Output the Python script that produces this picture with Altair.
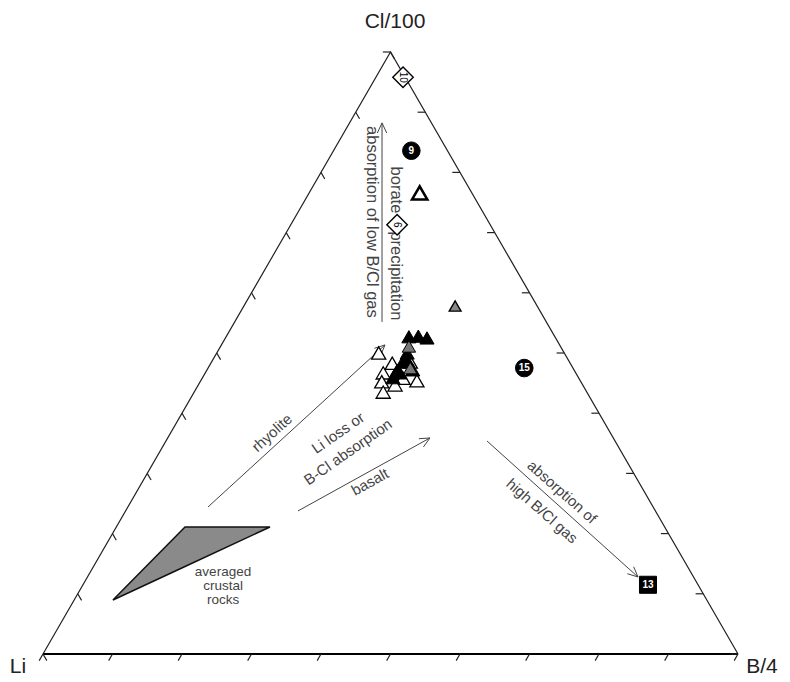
import math
import altair as alt
import pandas as pd

H = math.sqrt(3) / 2

# ---------------- sample compositions (fractions of Li, B/4, Cl/100) ----------------
s_li = [0.003, 0.052, 0.075, 0.134, 0.118, 0.070, 0.072,
        0.267, 0.256, 0.229, 0.277, 0.253, 0.235, 0.285, 0.293, 0.270,
        0.210, 0.196, 0.185, 0.226, 0.240, 0.255, 0.232, 0.267, 0.253, 0.232,
        0.218, 0.234]
s_b = [0.039, 0.112, 0.159, 0.153, 0.304, 0.455, 0.813,
       0.233, 0.261, 0.286, 0.256, 0.289, 0.311, 0.260, 0.272, 0.283,
       0.263, 0.276, 0.290, 0.274, 0.275, 0.274, 0.296, 0.274, 0.280, 0.280,
       0.271, 0.291]
s_cl = [0.958, 0.836, 0.766, 0.713, 0.578, 0.475, 0.115,
        0.500, 0.483, 0.485, 0.467, 0.458, 0.454, 0.450, 0.435, 0.447,
        0.527, 0.528, 0.525, 0.500, 0.485, 0.471, 0.472, 0.459, 0.467, 0.488,
        0.511, 0.475]
s_kind = ["diamond", "circle", "bigtri", "diamond", "smalltri", "circle", "square"] + \
         ["open"] * 9 + ["black"] * 10 + ["gray"] * 2
s_label = ["10", "9", "", "6", "", "15", "13"] + [""] * 21

# averaged crustal rocks field (Li, B/4, Cl/100)
crust_li = [0.690, 0.568, 0.8545]
crust_b = [0.0988, 0.2211, 0.0558]
crust_cl = [0.211, 0.211, 0.0897]

# tick fractions along each side
tick_vals = [i / 10 for i in range(11)]


def tern(l, b, c):
    s = l + b + c
    b, c = b / s, c / s
    return b + c / 2, c * H


pts = pd.DataFrame({"li": s_li, "b": s_b, "cl": s_cl, "kind": s_kind, "label": s_label})
xy = [tern(l, b, c) for l, b, c in zip(s_li, s_b, s_cl)]
pts["x"] = [p[0] for p in xy]
pts["y"] = [p[1] for p in xy]

xs = alt.Scale(domain=[0, 1], nice=False, zero=False)
ys = alt.Scale(domain=[0, H], nice=False, zero=False)
X = alt.X("x:Q", scale=xs, axis=None)
Y = alt.Y("y:Q", scale=ys, axis=None)
FONT = "Liberation Sans"

# ---------------- frame ----------------
frame = pd.DataFrame({"x": [0, 0.5, 1], "y": [0, H, 0], "o": [0, 1, 2]})
sides = alt.Chart(frame).mark_line(color="#222", strokeWidth=1.2).encode(x=X, y=Y, order="o:Q")
base_df = pd.DataFrame({"x": [0], "y": [0], "x2": [1], "y2": [0]})
base_line = alt.Chart(base_df).mark_rule(color="black", strokeWidth=2).encode(
    x=X, y=Y, x2="x2:Q", y2="y2:Q")

L = 0.011
trow = []
for t in tick_vals:
    trow.append(dict(x=t, y=0, x2=t - L * 0.5, y2=-L * H))
    x0, y0 = 1 - t / 2, t * H
    trow.append(dict(x=x0, y=y0, x2=x0 - L, y2=y0))
    x0, y0 = t / 2, t * H
    trow.append(dict(x=x0, y=y0, x2=x0 + L * 0.5, y2=y0 - L * H))
ticks = alt.Chart(pd.DataFrame(trow)).mark_rule(color="#222", strokeWidth=1.2).encode(
    x=X, y=Y, x2="x2:Q", y2="y2:Q")

# ---------------- crustal field ----------------
cxy = [tern(l, b, c) for l, b, c in zip(crust_li, crust_b, crust_cl)]
A, B, C = cxy  # A top-left, B top-right, C bottom
yb_A = C[1] + (B[1] - C[1]) * (A[0] - C[0]) / (B[0] - C[0])
crust = pd.DataFrame({"x": [C[0], A[0], B[0]], "y": [C[1], A[1], B[1]], "y2": [C[1], yb_A, B[1]]})
crust_mark = alt.Chart(crust).mark_area(fill="#8a8a8a", stroke="#111", strokeWidth=1.5,
                                        interpolate="linear").encode(x=X, y=Y, y2="y2:Q")

# ---------------- arrows (plot coordinates) ----------------
arr_x1 = [0.4878, 0.2374, 0.3669, 0.6388]
arr_y1 = [0.4777, 0.2115, 0.2058, 0.3065]
arr_x2 = [0.4878, 0.4921, 0.5568, 0.8561]
arr_y2 = [0.7640, 0.4446, 0.3108, 0.1108]

arows = []
for x1, y1, x2, y2 in zip(arr_x1, arr_y1, arr_x2, arr_y2):
    arows.append(dict(x=x1, y=y1, x2=x2, y2=y2))
    dx, dy = x2 - x1, y2 - y1
    n = math.hypot(dx, dy)
    vx, vy = -dx / n, -dy / n
    for s in (1, -1):
        a = math.radians(25 * s)
        hx = vx * math.cos(a) - vy * math.sin(a)
        hy = vx * math.sin(a) + vy * math.cos(a)
        arows.append(dict(x=x2, y=y2, x2=x2 + 0.016 * hx, y2=y2 + 0.016 * hy))
arrows = alt.Chart(pd.DataFrame(arows)).mark_rule(color="#444", strokeWidth=1).encode(
    x=X, y=Y, x2="x2:Q", y2="y2:Q")

# ---------------- annotation text ----------------
ann_text = ["borate", "precipitation", "absorption of low B/Cl gas", "rhyolite",
            "Li loss or", "B-Cl absorption", "basalt",
            "absorption of", "high B/Cl gas", "averaged", "crustal", "rocks"]
ann_x = [0.5079, 0.5079, 0.4734, 0.3295, 0.4245, 0.4388, 0.4705, 0.7468, 0.7180,
         0.2590, 0.2590, 0.2590]
ann_y = [0.6676, 0.5439, 0.6216, 0.3180, 0.3180, 0.2906, 0.2475, 0.2331, 0.2058,
         0.1180, 0.0978, 0.0770]
ann_angle = [90, 90, 90, 318, 325, 325, 331, 41.5, 41.5, 0, 0, 0]
ann_size = [16.5, 16.5, 16.5, 15, 15, 15, 15, 15, 15, 13.5, 13.5, 13.5]
ann = pd.DataFrame({"x": ann_x, "y": ann_y, "text": ann_text, "angle": ann_angle,
                    "size": ann_size})
ann_mark = alt.Chart(ann).mark_text(font=FONT, color="#444", baseline="middle",
                                    align="center").encode(
    x=X, y=Y, text="text:N", angle=alt.Angle("angle:Q", scale=None),
    size=alt.Size("size:Q", scale=None))

# corner labels
corner = pd.DataFrame({"x": [0.5065, -0.036, 1.0345], "y": [0.909, -0.0187, -0.0187],
                       "text": ["Cl/100", "Li", "B/4"]})
corner_mark = alt.Chart(corner).mark_text(font=FONT, fontSize=21, color="#222",
                                          baseline="middle", align="center").encode(
    x=X, y=Y, text="text:N")

# ---------------- sample symbols ----------------
P = alt.Chart(pts)


def sym(kind, shape, size, fill, stroke, sw):
    return P.transform_filter(alt.datum.kind == kind).mark_point(
        shape=shape, size=size, filled=True, fill=fill, stroke=stroke, strokeWidth=sw,
        opacity=1).encode(x=X, y=Y)


layers = [
    sym("open", "triangle-up", 200, "white", "black", 1.3),
    sym("black", "triangle-up", 200, "black", "black", 1.0),
    sym("gray", "triangle-up", 180, "#777", "black", 1.0),
    sym("bigtri", "triangle-up", 230, "white", "black", 2.6),
    sym("smalltri", "triangle-up", 140, "#888", "black", 1.4),
    sym("diamond", "diamond", 420, "white", "black", 1.4),
    sym("circle", "circle", 310, "black", "black", 1.0),
    sym("square", "square", 290, "black", "black", 1.0),
]
lab_white = P.transform_filter(
    (alt.datum.kind == "circle") | (alt.datum.kind == "square")).mark_text(
    font=FONT, fontSize=10, fontWeight="bold", color="white", baseline="middle").encode(
    x=X, y=Y, text="label:N")
lab_black = P.transform_filter(alt.datum.kind == "diamond").mark_text(
    font=FONT, fontSize=10, color="black", baseline="middle", angle=90).encode(
    x=X, y=Y, text="label:N")

chart = alt.layer(
    crust_mark, sides, base_line, ticks, arrows, ann_mark, corner_mark,
    *layers, lab_white, lab_black
).properties(
    width=695, height=602,
    padding={"left": 43, "top": 52, "right": 52, "bottom": 28},
    autosize=alt.AutoSizeParams(type="none"),
    background="white",
).configure_view(stroke=None)

chart.save("out.html", embed_options={"renderer": "svg", "actions": False})
